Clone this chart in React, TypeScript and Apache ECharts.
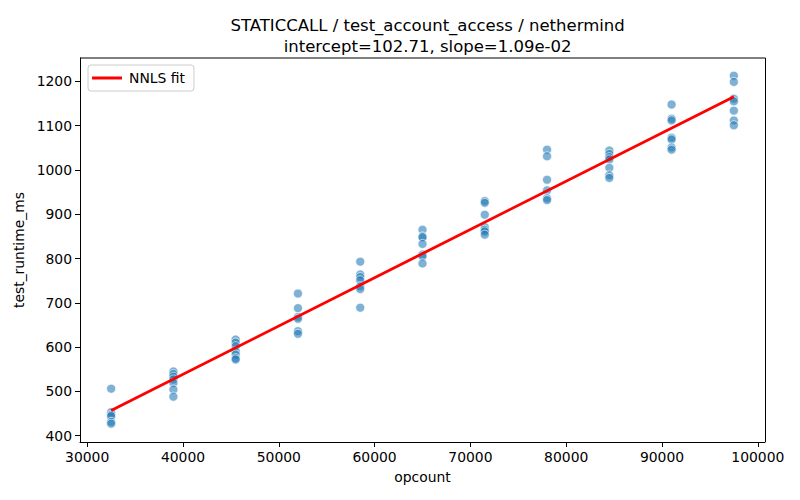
import React, { useEffect, useRef } from "react";
import * as echarts from "echarts";

const opcounts = [32500, 39000, 45500, 52000, 58500, 65000, 71500, 78000, 84500, 91000, 97500];
const runtimes: number[][] = [
  [506, 453, 447, 444, 431, 427],
  [545, 539, 533, 527, 519, 504, 488],
  [617, 610, 602, 590, 583, 575, 572],
  [721, 688, 668, 664, 636, 630],
  [793, 764, 758, 751, 737, 731, 689],
  [865, 850, 848, 833, 809, 805, 789],
  [930, 926, 899, 871, 865, 861, 854],
  [1046, 1031, 978, 954, 936, 932],
  [1044, 1036, 1029, 1024, 1005, 988, 982],
  [1148, 1116, 1112, 1073, 1069, 1051, 1046],
  [1213, 1199, 1161, 1155, 1134, 1112, 1101],
];
const fitX = [32500, 97500];
const fitY = [456.96, 1165.46];
const xTicks = [30000, 40000, 50000, 60000, 70000, 80000, 90000, 100000];
const yTicks = [400, 500, 600, 700, 800, 900, 1000, 1100, 1200];
const titleLines = ["STATICCALL / test_account_access / nethermind", "intercept=102.71, slope=1.09e-02"];

const FONT = "DejaVu Sans";

export default function App() {
  const ref = useRef<HTMLDivElement>(null);
  useEffect(() => {
    if (!ref.current) return;
    const chart = echarts.init(ref.current, undefined, { renderer: "svg" });
    const points: number[][] = [];
    opcounts.forEach((x, i) => runtimes[i].forEach((y) => points.push([x, y])));
    const axisCommon = {
      axisLine: { show: true, onZero: false, lineStyle: { color: "#000", width: 1 } },
      axisTick: { show: true, length: 5, lineStyle: { color: "#000", width: 1 } },
      splitLine: { show: false },
      nameTextStyle: { color: "#000", fontFamily: FONT, fontSize: 13.9 },
    };
    const fmt = (v: number) => String(v);
    chart.setOption({
      animation: false,
      backgroundColor: "#fff",
      title: {
        text: titleLines.join("\n"),
        left: 422.6,
        textAlign: "center",
        top: 10,
        textStyle: { fontFamily: FONT, fontSize: 16.5, fontWeight: "normal", color: "#000", lineHeight: 21 },
      },
      grid: { left: 80, right: 35, top: 58, bottom: 58, containLabel: false, show: false },
      legend: {
        data: [{ name: "NNLS fit", icon: "rect" }],
        left: 88,
        top: 65,
        orient: "vertical",
        itemWidth: 30,
        itemHeight: 3,
        itemGap: 8,
        padding: [6, 9, 6, 4],
        backgroundColor: "rgba(255,255,255,0.8)",
        borderColor: "#cccccc",
        borderWidth: 1,
        borderRadius: 3,
        textStyle: { fontFamily: FONT, fontSize: 13.9, color: "#000", padding: [0, 0, 0, 2] },
      },
      xAxis: {
        type: "value",
        min: 29250,
        max: 100750,
        name: "opcount",
        nameLocation: "middle",
        nameGap: 28,
        ...axisCommon,
        axisTick: { ...axisCommon.axisTick, customValues: xTicks },
        axisLabel: { customValues: xTicks, formatter: fmt, color: "#000", fontFamily: FONT, fontSize: 13.9, margin: 8 },
      },
      yAxis: {
        type: "value",
        min: 385.6,
        max: 1253,
        name: "test_runtime_ms",
        nameLocation: "middle",
        nameGap: 43,
        ...axisCommon,
        axisTick: { ...axisCommon.axisTick, customValues: yTicks },
        axisLabel: { customValues: yTicks, formatter: fmt, color: "#000", fontFamily: FONT, fontSize: 13.9, margin: 8 },
      },
      series: [
        {
          type: "scatter",
          name: "points",
          data: points,
          symbolSize: 9,
          itemStyle: { color: "rgba(31,119,180,0.72)", borderColor: "#fff", borderWidth: 0.8 },
          z: 2,
        },
        {
          type: "line",
          name: "NNLS fit",
          data: fitX.map((x, i) => [x, fitY[i]]),
          showSymbol: false,
          symbol: "none",
          lineStyle: { color: "#ff0000", width: 2.8 },
          itemStyle: { color: "#ff0000" },
          z: 3,
        },
      ],
      graphic: [
        { type: "line", shape: { x1: 80, y1: 58, x2: 765.5, y2: 58 }, style: { stroke: "#000", lineWidth: 1 }, z: 10 },
        { type: "line", shape: { x1: 765.5, y1: 58, x2: 765.5, y2: 442 }, style: { stroke: "#000", lineWidth: 1 }, z: 10 },
      ],
    });
    return () => chart.dispose();
  }, []);
  return <div ref={ref} style={{ width: 800, height: 500, margin: -8 }} />;
}
